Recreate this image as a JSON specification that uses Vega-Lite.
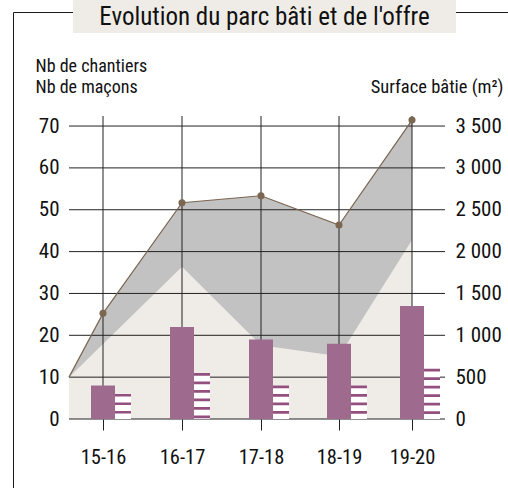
{
  "$schema": "https://vega.github.io/schema/vega-lite/v6.json",
  "autosize": "none",
  "padding": {"left": 13, "top": 12, "right": 0, "bottom": 0},
  "background": "white",
  "width": 503,
  "height": 490,
  "view": {"stroke": "#1a1a1a", "strokeWidth": 1},
  "config": {
    "font": "Liberation Sans Narrow, Roboto Condensed, DejaVu Sans Condensed, sans-serif"
  },
  "datasets": {
    "areas": [
      {"i": -0.5, "surface": 500, "offre": 500},
      {"i": 0, "surface": 1262, "offre": 895},
      {"i": 1, "surface": 2584, "offre": 1820},
      {"i": 2, "surface": 2667, "offre": 880},
      {"i": 3, "surface": 2317, "offre": 750},
      {"i": 4, "surface": 3571, "offre": 2140}
    ],
    "bars": [
      {"i": 0, "chantiers": 8, "macons": 6},
      {"i": 1, "chantiers": 22, "macons": 11},
      {"i": 2, "chantiers": 19, "macons": 8},
      {"i": 3, "chantiers": 18, "macons": 8},
      {"i": 4, "chantiers": 27, "macons": 12}
    ],
    "grid": [{"v": 0}, {"v": 10}, {"v": 20}, {"v": 30}, {"v": 40}, {"v": 50}, {"v": 60}, {"v": 70}],
    "titre": [{"t": "Evolution du parc bâti et de l'offre"}]
  },
  "layer": [
    {
      "data": {"name": "areas"},
      "mark": {"type": "area", "color": "#C2C2C2"},
      "encoding": {
        "x": {"field": "i", "type": "quantitative", "scale": {"domain": [-0.5, 0, 1, 2, 3, 4, 4.5], "range": [56, 90, 169, 248, 326, 399, 432], "nice": false, "zero": false}, "axis": null},
        "y": {
          "field": "surface",
          "type": "quantitative",
          "scale": {"domain": [0, 3620], "range": [407, 104], "nice": false},
          "axis": {
            "orient": "right",
            "offset": -71,
            "values": [0, 500, 1000, 1500, 2000, 2500, 3000, 3500],
            "labelExpr": "replace(format(datum.value, ','), ',', ' ')",
            "grid": false,
            "domain": false,
            "ticks": false,
            "tickSize": 0,
            "labelPadding": 10,
            "labelFontSize": 21,
            "labelColor": "#111111",
            "labelBaseline": "middle",
            "labelAlign": "left",
            "title": "Surface bâtie (m²)",
            "titleAngle": 0,
            "titleAlign": "right",
            "titleBaseline": "alphabetic",
            "titleX": 58,
            "titleY": 80,
            "titleFontSize": 18.5,
            "titleFontWeight": "normal",
            "titleColor": "#111111"
          }
        },
        "y2": {"datum": 0}
      }
    },
    {
      "data": {"name": "areas"},
      "mark": {"type": "area", "color": "#EFECE7"},
      "encoding": {
        "x": {"field": "i", "type": "quantitative", "scale": {"domain": [-0.5, 0, 1, 2, 3, 4, 4.5], "range": [56, 90, 169, 248, 326, 399, 432], "nice": false, "zero": false}, "axis": null},
        "y": {"field": "offre", "type": "quantitative", "scale": {"domain": [0, 3620], "range": [407, 104], "nice": false}, "axis": null},
        "y2": {"datum": 0}
      }
    },
    {
      "data": {"name": "grid"},
      "mark": {"type": "rule", "color": "#222222", "strokeWidth": 1},
      "encoding": {
        "x": {"datum": -0.5, "type": "quantitative", "scale": {"domain": [-0.5, 0, 1, 2, 3, 4, 4.5], "range": [56, 90, 169, 248, 326, 399, 432], "nice": false, "zero": false}, "axis": null},
        "x2": {"datum": 4.5},
        "y": {
          "field": "v",
          "type": "quantitative",
          "scale": {"domain": [0, 72.4], "range": [407, 104], "nice": false},
          "axis": {
            "orient": "left",
            "offset": -56,
            "values": [0, 10, 20, 30, 40, 50, 60, 70],
            "grid": false,
            "domain": false,
            "ticks": false,
            "tickSize": 0,
            "labelPadding": 10,
            "labelFontSize": 21,
            "labelColor": "#111111",
            "labelBaseline": "middle",
            "title": ["Nb de chantiers", "Nb de maçons"],
            "titleAngle": 0,
            "titleAlign": "left",
            "titleBaseline": "alphabetic",
            "titleX": -34,
            "titleY": 59,
            "titleLineHeight": 21,
            "titleFontSize": 18,
            "titleFontWeight": "normal",
            "titleColor": "#111111"
          }
        }
      }
    },
    {
      "data": {"name": "bars"},
      "mark": {"type": "rule", "color": "#222222", "strokeWidth": 1},
      "encoding": {
        "x": {
          "field": "i",
          "type": "quantitative",
          "scale": {"domain": [-0.5, 0, 1, 2, 3, 4, 4.5], "range": [56, 90, 169, 248, 326, 399, 432], "nice": false, "zero": false},
          "axis": {
            "orient": "bottom",
            "offset": -83,
            "values": [0, 1, 2, 3, 4],
            "labelExpr": "['15-16','16-17','17-18','18-19','19-20'][datum.value]",
            "domain": false,
            "grid": false,
            "ticks": true,
            "tickSize": 11,
            "tickColor": "#222222",
            "tickWidth": 1,
            "labelFontSize": 20.5,
            "labelColor": "#111111",
            "labelBaseline": "alphabetic",
            "labelPadding": 33,
            "title": null
          }
        },
        "y": {"datum": 0, "type": "quantitative", "scale": {"domain": [0, 72.4], "range": [407, 104], "nice": false}, "axis": null},
        "y2": {"datum": 72.4}
      }
    },
    {
      "data": {"name": "areas"},
      "mark": {"type": "line", "color": "#7B6652", "strokeWidth": 1.2},
      "encoding": {
        "x": {"field": "i", "type": "quantitative", "scale": {"domain": [-0.5, 0, 1, 2, 3, 4, 4.5], "range": [56, 90, 169, 248, 326, 399, 432], "nice": false, "zero": false}, "axis": null},
        "y": {"field": "surface", "type": "quantitative", "scale": {"domain": [0, 3620], "range": [407, 104], "nice": false}, "axis": null}
      }
    },
    {
      "data": {"name": "areas"},
      "transform": [{"filter": "datum.i >= 0"}],
      "mark": {"type": "circle", "color": "#7B6652", "size": 50, "opacity": 1},
      "encoding": {
        "x": {"field": "i", "type": "quantitative", "scale": {"domain": [-0.5, 0, 1, 2, 3, 4, 4.5], "range": [56, 90, 169, 248, 326, 399, 432], "nice": false, "zero": false}, "axis": null},
        "y": {"field": "surface", "type": "quantitative", "scale": {"domain": [0, 3620], "range": [407, 104], "nice": false}, "axis": null}
      }
    },
    {
      "data": {"name": "bars"},
      "mark": {"type": "bar", "orient": "vertical", "size": 24, "color": "#9E6B8F"},
      "encoding": {
        "x": {"field": "i", "type": "quantitative", "scale": {"domain": [-0.5, 0, 1, 2, 3, 4, 4.5], "range": [56, 90, 169, 248, 326, 399, 432], "nice": false, "zero": false}, "axis": null},
        "y": {"field": "chantiers", "type": "quantitative", "scale": {"domain": [0, 72.4], "range": [407, 104], "nice": false}, "axis": null},
        "y2": {"datum": 0}
      }
    },
    {
      "data": {"name": "bars"},
      "mark": {"type": "bar", "orient": "vertical", "size": 16, "xOffset": 20, "color": "#FFFFFF"},
      "encoding": {
        "x": {"field": "i", "type": "quantitative", "scale": {"domain": [-0.5, 0, 1, 2, 3, 4, 4.5], "range": [56, 90, 169, 248, 326, 399, 432], "nice": false, "zero": false}, "axis": null},
        "y": {"field": "macons", "type": "quantitative", "scale": {"domain": [0, 72.4], "range": [407, 104], "nice": false}, "axis": null},
        "y2": {"datum": 0}
      }
    },
    {
      "data": {"name": "bars"},
      "mark": {"type": "rule", "strokeWidth": 16, "strokeDash": [2.7, 5.8], "xOffset": 20, "color": "#93507F"},
      "encoding": {
        "x": {"field": "i", "type": "quantitative", "scale": {"domain": [-0.5, 0, 1, 2, 3, 4, 4.5], "range": [56, 90, 169, 248, 326, 399, 432], "nice": false, "zero": false}, "axis": null},
        "y": {"field": "macons", "type": "quantitative", "scale": {"domain": [0, 72.4], "range": [407, 104], "nice": false}, "axis": null},
        "y2": {"datum": 0}
      }
    },
    {
      "data": {"name": "titre"},
      "mark": {"type": "rect", "color": "#EFECE7"},
      "encoding": {
        "x": {"field": "t", "type": "nominal", "scale": {"range": [60, 443], "paddingInner": 0, "paddingOuter": 0}, "axis": null},
        "y": {"field": "t", "type": "nominal", "scale": {"range": [-12, 21], "paddingInner": 0, "paddingOuter": 0}, "axis": null}
      }
    },
    {
      "data": {"name": "titre"},
      "mark": {"type": "text", "align": "center", "baseline": "middle", "fontSize": 25, "color": "#111111"},
      "encoding": {
        "x": {"field": "t", "type": "nominal", "scale": {"range": [60, 443], "paddingInner": 0, "paddingOuter": 0}, "axis": null},
        "y": {"field": "t", "type": "nominal", "scale": {"range": [-12, 21], "paddingInner": 0, "paddingOuter": 0}, "axis": null},
        "text": {"field": "t", "type": "nominal"}
      }
    }
  ],
  "resolve": {"scale": {"x": "independent", "y": "independent"}, "axis": {"x": "independent", "y": "independent"}}
}
